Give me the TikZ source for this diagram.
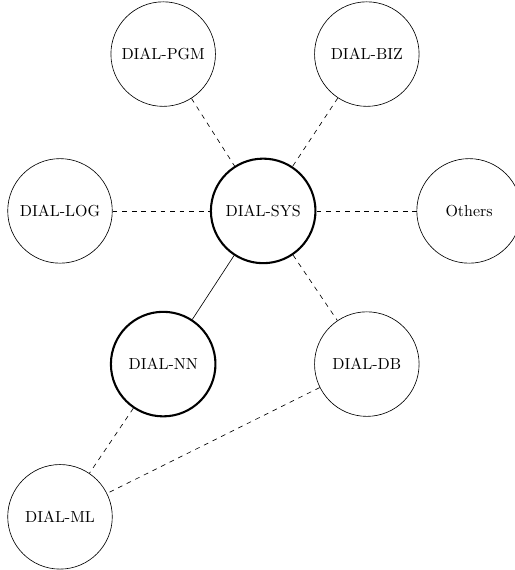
\documentclass[tikz,border=0pt]{standalone}
\usepackage{tikz}
\usetikzlibrary{shapes}

\begin{document}
\begin{tikzpicture}
\tikzstyle{topic}=[
	circle,
	draw,
	minimum size=2.3cm,
	inner sep=0pt ]
\tikzstyle{core}=[topic, line width=1.3pt]
\tikzstyle{link}=[dashed]
\useasboundingbox (0,0) rectangle (11.31,-12.54);
\node[topic] (pgm) at (3.59,-1.19) {DIAL-PGM};
\node[topic] (biz) at (8.07,-1.19) {DIAL-BIZ};
\node[topic] (log) at (1.32,-4.64) {DIAL-LOG};
\node[core] (sys) at (5.79,-4.64) {DIAL-SYS};
\node[topic] (oth) at (10.32,-4.64) {Others};
\node[core] (nn) at (3.59,-8.01) {DIAL-NN};
\node[topic] (db) at (8.07,-8.01) {DIAL-DB};
\node[topic] (ml) at (1.32,-11.37) {DIAL-ML};
\draw[link] (pgm) -- (sys);
\draw[link] (biz) -- (sys);
\draw[link] (log) -- (sys);
\draw[link] (sys) -- (oth);
\draw[link] (sys) -- (db);
\draw (sys) -- (nn);
\draw[link] (nn) -- (ml);
\draw[link] (db) -- (ml);
\end{tikzpicture}
\end{document}
